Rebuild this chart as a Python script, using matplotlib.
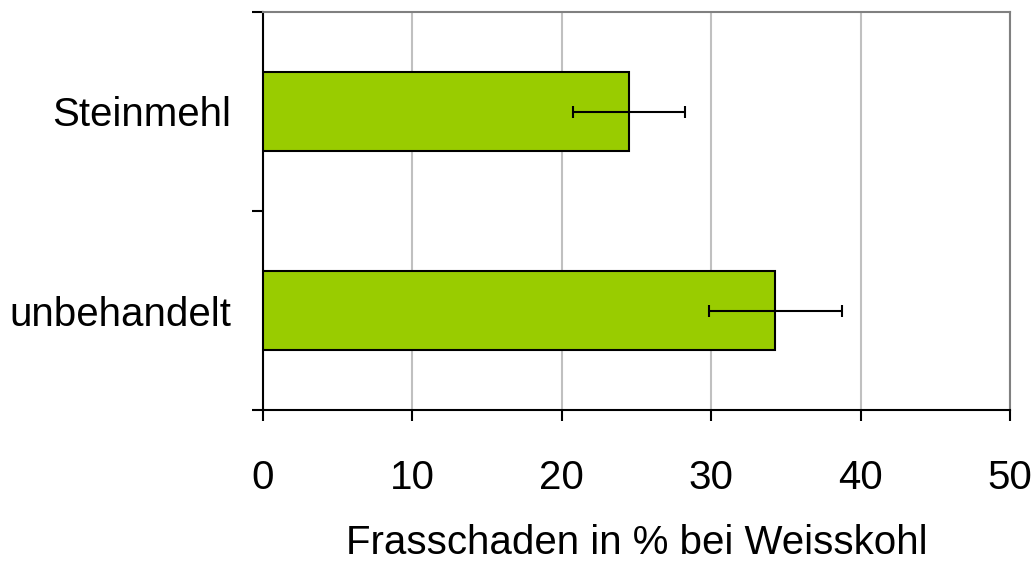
import matplotlib
matplotlib.use("Agg")
from matplotlib import pyplot as plt
import numpy as np

plt.rcParams['font.family'] = ['Liberation Sans', 'DejaVu Sans']

categories = ["unbehandelt", "Steinmehl"]
values = [34.3, 24.5]
errors = [4.45, 3.75]
xticks = [0, 10, 20, 30, 40, 50]

fig = plt.figure(figsize=(10.35, 5.61), dpi=100)
ax = fig.add_axes([263/1035, 151/561, 747/1035, 398/561])

ypos = np.arange(len(categories))
ax.barh(ypos, values, height=0.4, color="#99CC00", edgecolor="black", linewidth=1.5, zorder=3)
ax.errorbar(values, ypos, xerr=errors, fmt="none", ecolor="black", elinewidth=1.5,
            capsize=4.5, capthick=1.5, zorder=4)

ax.set_xlim(0, 50)
ax.set_ylim(-0.5, 1.5)
ax.set_xticks(xticks)
ax.set_xticklabels([str(t) for t in xticks], fontsize=29)
ax.set_yticks([-0.5, 0.5, 1.5])
ax.set_yticklabels([])
ax.set_yticks(ypos, minor=True)
ax.set_yticklabels(categories, minor=True, fontsize=29)
ax.tick_params(axis='y', which='minor', length=0, pad=23)
ax.tick_params(axis='y', which='major', length=8, width=1.5, direction='out')
ax.tick_params(axis='x', length=8, width=1.5, direction='out', pad=27)

ax.grid(axis='x', color="#c0c0c0", linewidth=1.5, zorder=0)
ax.spines['left'].set_color('black')
ax.spines['bottom'].set_color('black')
ax.spines['left'].set_linewidth(1.5)
ax.spines['bottom'].set_linewidth(1.5)
ax.spines['top'].set_color('#808080')
ax.spines['right'].set_color('#808080')
ax.spines['top'].set_linewidth(1.5)
ax.spines['right'].set_linewidth(1.5)

ax.set_xlabel("Frasschaden in % bei Weisskohl", fontsize=29, labelpad=20)

fig.savefig("out.png", dpi=100)
